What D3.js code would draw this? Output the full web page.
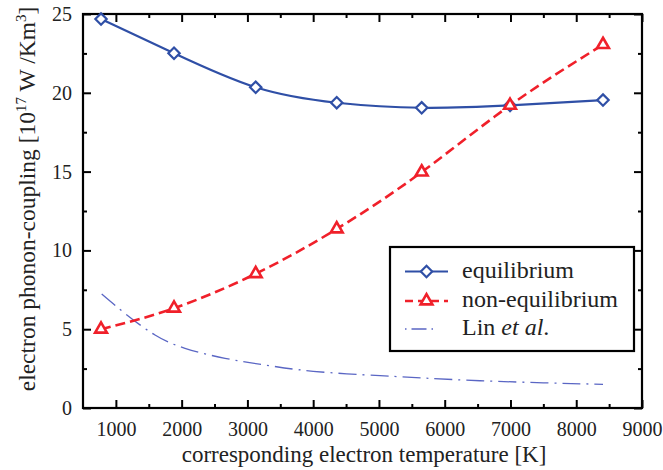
<!DOCTYPE html>
<html><head><meta charset="utf-8">
<script src="https://cdn.jsdelivr.net/npm/d3@7"></script>
<style>body{margin:0;background:#fff}svg{display:block}svg text, svg tspan{font-family:"Liberation Serif", serif !important;}</style>
</head><body><svg id="c" width="663" height="470"></svg>
<script>
const xTicks = [1000,2000,3000,4000,5000,6000,7000,8000,9000];
const yTicks = [0,5,10,15,20,25];
const eqT   = [774,1884,3126,4358,5650,6993,8407];
const eqG   = [24.68,22.51,20.35,19.37,19.05,19.2,19.54];
const neqT  = [774,1884,3126,4358,5650,6993,8407];
const neqG  = [5.0,6.33,8.52,11.36,14.97,19.2,23.06];
const linT  = [784,1139,1595,2051,2660,3268,4000,5016,5777,6537,7500,8407];
const linG  = [7.23,6.0,4.63,3.79,3.15,2.73,2.33,2.05,1.88,1.73,1.6,1.5];
const legendLabels = ["equilibrium","non-equilibrium","Lin"];

const FONT = "Liberation Serif";
const svg = d3.select("#c");
const L=83,R=642,T=14,B=408;
const x = d3.scaleLinear().domain([500,9000]).range([L,R]);
const y = d3.scaleLinear().domain([0,25]).range([B,T]);
const minorX = d3.range(1500,9000,1000);
const minorY = d3.range(2.5,25,5);

function styleAxis(g){g.attr("font-family",FONT).attr("font-size",null);g.select(".domain").remove();g.selectAll("line").attr("stroke","#000").attr("stroke-width",2);g.selectAll("text").attr("font-family",FONT).style("font-size","20px").style("fill","#222");}

svg.append("g").attr("transform",`translate(0,${B})`).call(d3.axisBottom(x).tickValues(xTicks).tickSize(-8).tickPadding(14).tickFormat(d3.format("d"))).call(styleAxis);
svg.append("g").attr("transform",`translate(0,${B})`).call(d3.axisBottom(x).tickValues(minorX).tickSize(-4).tickFormat("")).call(styleAxis);
svg.append("g").attr("transform",`translate(0,${T})`).call(d3.axisTop(x).tickValues(xTicks).tickSize(-8).tickFormat("")).call(styleAxis);
svg.append("g").attr("transform",`translate(0,${T})`).call(d3.axisTop(x).tickValues(minorX).tickSize(-4).tickFormat("")).call(styleAxis);
svg.append("g").attr("transform",`translate(${L},0)`).call(d3.axisLeft(y).tickValues(yTicks).tickSize(-8).tickPadding(11).tickFormat(d3.format("d"))).call(styleAxis);
svg.append("g").attr("transform",`translate(${L},0)`).call(d3.axisLeft(y).tickValues(minorY).tickSize(-4).tickFormat("")).call(styleAxis);
svg.append("g").attr("transform",`translate(${R},0)`).call(d3.axisRight(y).tickValues(yTicks).tickSize(-8).tickFormat("")).call(styleAxis);
svg.append("g").attr("transform",`translate(${R},0)`).call(d3.axisRight(y).tickValues(minorY).tickSize(-4).tickFormat("")).call(styleAxis);

svg.append("rect").attr("x",L).attr("y",T).attr("width",R-L).attr("height",B-T).attr("fill","none").attr("stroke","#000").attr("stroke-width",2.2);

const blue="#2f4fa6", red="#f0202a", lin="#5a66c4";
const line = d3.line().curve(d3.curveNatural);

svg.append("path").attr("d",line(linT.map((t,i)=>[x(t),y(linG[i])]))).attr("fill","none").attr("stroke",lin).attr("stroke-width",1.3).attr("stroke-dasharray","18,6,2,6");
svg.append("path").attr("d",line(eqT.map((t,i)=>[x(t),y(eqG[i])]))).attr("fill","none").attr("stroke",blue).attr("stroke-width",2.2);
svg.append("path").attr("d",line(neqT.map((t,i)=>[x(t),y(neqG[i])]))).attr("fill","none").attr("stroke",red).attr("stroke-width",2.6).attr("stroke-dasharray","10,5");

const diamond = d3.symbol().type(d3.symbolDiamond2).size(82);
const tri = d3.symbol().type(d3.symbolTriangle2).size(100);
svg.append("g").selectAll("path").data(eqT).join("path").attr("d",diamond).attr("transform",(t,i)=>`translate(${x(t)},${y(eqG[i])})`).attr("fill","#fff").attr("stroke",blue).attr("stroke-width",2.2);
svg.append("g").selectAll("path").data(neqT).join("path").attr("d",tri).attr("transform",(t,i)=>`translate(${x(t)},${y(neqG[i])})`).attr("fill","#fff").attr("stroke",red).attr("stroke-width",2.6);

// axis titles
svg.append("text").attr("font-family",FONT).attr("x",364).attr("y",462).attr("text-anchor","middle").style("font-size","23px").style("fill","#222").text("corresponding electron temperature [K]");
const yt = svg.append("text").attr("font-family",FONT).attr("transform",`translate(35,199) rotate(-90)`).attr("text-anchor","middle").style("font-size","23.5px").style("fill","#222");
yt.append("tspan").text("electron phonon-coupling [10");
yt.append("tspan").style("font-size","15px").attr("dy",-9).text("17");
yt.append("tspan").attr("dy",9).text(" W /Km");
yt.append("tspan").style("font-size","15px").attr("dy",-9).text("3");
yt.append("tspan").attr("dy",9).text("]");

// legend
const lg = svg.append("g").attr("font-family",FONT);
lg.append("rect").attr("x",390).attr("y",247).attr("width",244).attr("height",104).attr("fill","#fff").attr("stroke","#000").attr("stroke-width",2.2);
const rows=[271.5,301,329];
const lx0=405,lx1=448;
lg.append("line").attr("x1",lx0).attr("x2",lx1).attr("y1",rows[0]).attr("y2",rows[0]).attr("stroke",blue).attr("stroke-width",2.2);
lg.append("path").attr("d",diamond).attr("transform",`translate(${(lx0+lx1)/2},${rows[0]})`).attr("fill","#fff").attr("stroke",blue).attr("stroke-width",2.2);
lg.append("line").attr("x1",lx0).attr("x2",lx1).attr("y1",rows[1]).attr("y2",rows[1]).attr("stroke",red).attr("stroke-width",2.6).attr("stroke-dasharray","8,5");
lg.append("path").attr("d",tri).attr("transform",`translate(${(lx0+lx1)/2},${rows[1]})`).attr("fill","#fff").attr("stroke",red).attr("stroke-width",2.6);
lg.append("line").attr("x1",lx0).attr("x2",lx1).attr("y1",rows[2]).attr("y2",rows[2]).attr("stroke",lin).attr("stroke-width",1.3).attr("stroke-dasharray","1.5,5,15,5,1.5,20");
for (let i=0;i<2;i++) lg.append("text").attr("x",462).attr("y",rows[i]+6).style("font-size","24px").style("fill","#222").text(legendLabels[i]);
const lt = lg.append("text").attr("x",462).attr("y",rows[2]+6).style("font-size","24px").style("fill","#222");
lt.append("tspan").text(legendLabels[2]+" ");
lt.append("tspan").style("font-style","italic").text("et al");
lt.append("tspan").text(".");
</script></body></html>
